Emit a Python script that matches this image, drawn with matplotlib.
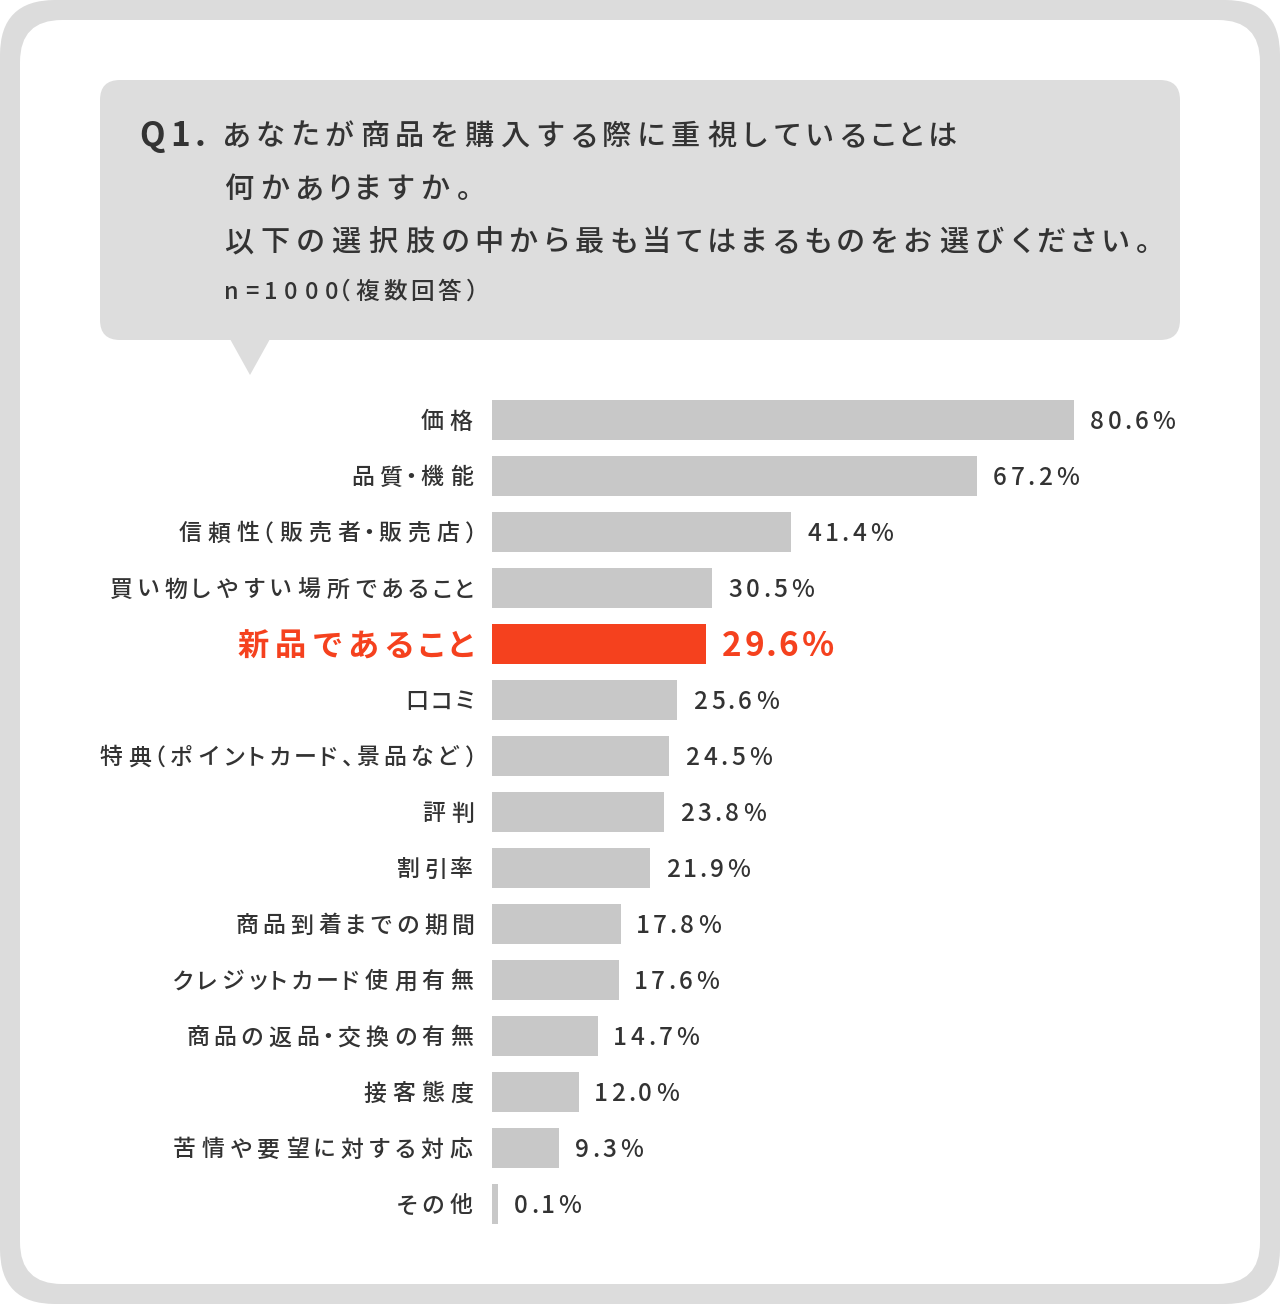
import matplotlib
matplotlib.use("Agg")
import matplotlib.pyplot as plt
from matplotlib.patches import FancyBboxPatch, Polygon
from matplotlib.textpath import TextPath
from matplotlib.font_manager import FontProperties

FAMILY = ['Noto Sans CJK JP', 'DejaVu Sans']
plt.rcParams['font.family'] = FAMILY

# data
categories = [
    "価格", "品質・機能", "信頼性（販売者・販売店）", "買い物しやすい場所であること",
    "新品であること", "口コミ", "特典（ポイントカード、景品など）", "評判", "割引率",
    "商品到着までの期間", "クレジットカード使用有無", "商品の返品・交換の有無",
    "接客態度", "苦情や要望に対する対応", "その他",
]
values = [80.6, 67.2, 41.4, 30.5, 29.6, 25.6, 24.5, 23.8, 21.9, 17.8, 17.6, 14.7, 12.0, 9.3, 0.1]
highlight = "新品であること"

title_q = "Q1."
title_lines = [
    "あなたが商品を購入する際に重視していることは",
    "何かありますか。",
    "以下の選択肢の中から最も当てはまるものをお選びください。",
]
subtitle = "n=1000（複数回答）"

TEXT = "#333333"
BAR = "#c8c8c8"
RED = "#f5411e"
FRAME = "#dcdcdc"

W, H = 1280, 1304
fig = plt.figure(figsize=(W / 100, H / 100), dpi=100)
fig.patch.set_facecolor("white")

# background axes in pixel units (y grows downwards)
bg = fig.add_axes([0, 0, 1, 1])
bg.set_xlim(0, W)
bg.set_ylim(H, 0)
bg.axis("off")


# proportional text with letter spacing: each glyph placed by its ink width.
# sp_ascii is used between two ascii glyphs (the original font has wide digits)
def spaced_text(x, y, s, sp, ha="left", fontsize=17, fontweight=500,
                color=TEXT, sp_ascii=None):
    if sp_ascii is None:
        sp_ascii = sp
    px = fontsize * 100 / 72
    prop = FontProperties(family=FAMILY, weight=fontweight)
    ink = []
    for ch in s:
        ext = TextPath((0, 0), ch, size=px, prop=prop).get_extents()
        ink.append((ext.x0, ext.x1))
    gaps = [sp_ascii if (s[j].isascii() and s[j + 1].isascii()) else sp
            for j in range(len(s) - 1)] + [0]
    total = sum(b - a for a, b in ink) + sum(gaps)
    if ha == "right":
        x -= total
    for ch, (a, b), g in zip(s, ink, gaps):
        bg.text(x - a, y, ch, ha="left", va="baseline", fontsize=fontsize,
                fontweight=fontweight, color=color, zorder=5)
        x += (b - a) + g
    return total


bg.add_patch(FancyBboxPatch((0, 0), W, H, boxstyle="round,pad=0,rounding_size=55",
                            fc=FRAME, ec="none"))
bg.add_patch(FancyBboxPatch((20, 20), W - 40, H - 40, boxstyle="round,pad=0,rounding_size=42",
                            fc="white", ec="none"))

# speech bubble
bg.add_patch(FancyBboxPatch((100, 80), 1080, 260, boxstyle="round,pad=0,rounding_size=20",
                            fc="#dddddd", ec="none"))
bg.add_patch(Polygon([(230, 339), (270, 339), (250, 375)], closed=True, fc="#dddddd", ec="none"))

spaced_text(141, 146, title_q, 9, fontsize=24, fontweight="bold")
for k, line in enumerate(title_lines):
    spaced_text(225, 145 + 53 * k, line, 9.5, fontsize=21)
spaced_text(226, 299, subtitle, 6, fontsize=17, sp_ascii=9)

# bar axes: 7.22 px per percent, 56 px per row
px_per_pct = 7.22
left, right = 492, 1260
top, bottom = 392, 392 + 56 * len(categories)
ax = fig.add_axes([left / W, 1 - bottom / H, (right - left) / W, (bottom - top) / H])
ax.set_xlim(0, (right - left) / px_per_pct)
ax.set_ylim(len(categories) - 0.5, -0.5)
ax.axis("off")

shown = [max(v, 0.9) for v in values]
colors = [RED if c == highlight else BAR for c in categories]
ax.barh(range(len(categories)), shown, height=40 / 56, color=colors, edgecolor="none")

for i, (c, v, s) in enumerate(zip(categories, values, shown)):
    hl = c == highlight
    x_end, y_disp = ax.transData.transform((s, i))
    x0, _ = ax.transData.transform((0, i))
    cy = H - y_disp
    if hl:
        spaced_text(x0 - 20, cy + 11.5, c, 9.5, ha="right", fontsize=22.5,
                    fontweight="bold", color=RED)
        spaced_text(x_end + 17, cy + 12.5, f"{v:.1f}%", 6, fontsize=24,
                    fontweight="bold", color=RED)
    else:
        spaced_text(x0 - 20, cy + 8.5, c, 7.5, ha="right", fontsize=16.5)
        spaced_text(x_end + 17, cy + 9, f"{v:.1f}%", 6, fontsize=17.5)

fig.savefig("out.png", dpi=100)
